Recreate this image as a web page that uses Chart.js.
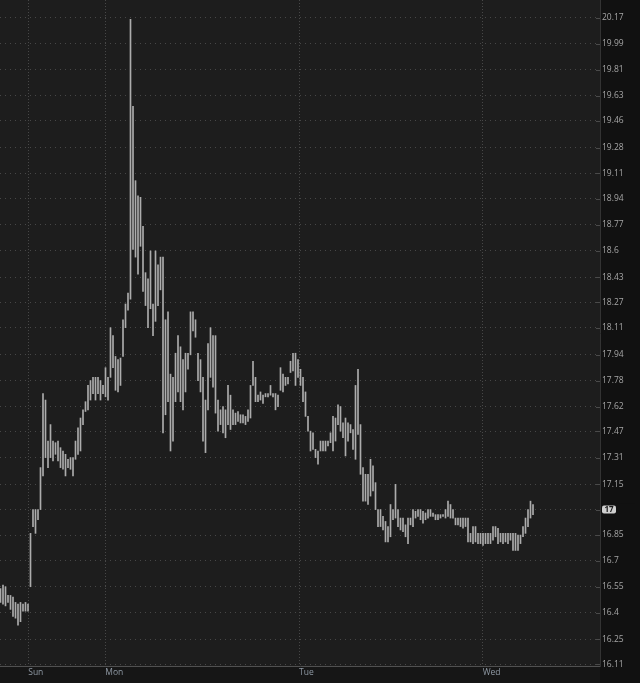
<!DOCTYPE html>
<html>
<head>
<meta charset="utf-8">
<script src="https://cdn.jsdelivr.net/npm/chart.js@4/dist/chart.umd.min.js"></script>
<style>
html,body{margin:0;padding:0;background:#121212;}
#wrap{width:640px;height:683px;position:relative;}
</style>
</head>
<body>
<div id="wrap"><canvas id="c"></canvas></div>
<script>
// ---- data (OHLC bars, high/low per bar) ----
const barHighs = [
16.54,16.56,16.55,16.50,16.50,16.49,16.46,16.45,16.46,16.45,16.46,16.45,
16.86,17.00,17.00,17.00,17.25,17.70,17.66,17.41,17.51,17.41,17.40,17.41,17.37,17.35,17.33,17.30,17.31,17.31,
17.41,17.49,17.55,17.60,17.65,17.75,17.78,17.80,17.80,17.80,17.78,17.75,17.86,17.80,18.11,18.06,17.93,17.91,
17.92,18.16,18.26,18.33,20.16,19.56,19.06,18.96,18.95,18.76,18.46,18.42,18.60,18.26,18.60,18.51,18.56,18.56,
18.16,18.21,17.82,17.80,17.95,18.06,17.99,17.91,17.95,17.95,18.21,18.21,18.16,17.95,17.91,17.80,17.66,18.01,
18.11,18.06,18.06,17.66,17.60,17.62,17.60,17.75,17.69,17.60,17.58,17.59,17.57,17.57,17.56,17.60,17.75,17.90,
17.80,17.69,17.71,17.69,17.70,17.70,17.75,17.70,17.70,17.69,17.86,17.82,17.80,17.80,17.90,17.95,17.95,17.91,
17.85,17.80,17.71,17.56,17.47,17.46,17.36,17.35,17.41,17.41,17.41,17.41,17.46,17.56,17.55,17.63,17.62,17.52,
17.55,17.52,17.51,17.48,17.75,17.85,17.51,17.25,17.21,17.21,17.30,17.26,17.16,17.00,17.00,16.96,16.93,16.90,
17.03,17.00,17.15,17.00,16.95,16.95,16.91,16.95,16.95,17.00,16.99,17.00,17.00,16.99,16.98,17.00,17.00,16.98,
16.97,16.97,16.97,16.97,17.00,17.05,17.03,17.00,16.95,16.95,16.95,16.95,16.95,16.95,16.86,16.90,16.90,16.86,
16.86,16.86,16.86,16.86,16.86,16.90,16.90,16.89,16.86,16.86,16.86,16.86,16.86,16.86,16.86,16.85,16.85,16.90,
16.95,17.00,17.05,17.03
];
const barLows = [
16.46,16.45,16.44,16.46,16.42,16.38,16.37,16.33,16.35,16.41,16.41,16.41,
16.55,16.90,16.86,16.94,17.00,17.20,17.31,17.25,17.31,17.29,17.33,17.29,17.25,17.24,17.20,17.25,17.24,17.20,
17.30,17.33,17.35,17.51,17.59,17.60,17.66,17.70,17.66,17.70,17.66,17.70,17.68,17.66,17.80,17.86,17.72,17.71,
17.75,17.93,18.11,18.22,18.29,18.61,18.56,18.45,18.63,18.34,18.25,18.11,18.23,18.06,18.15,18.25,18.35,17.46,
17.57,17.65,17.35,17.41,17.65,17.71,17.65,17.60,17.71,17.85,17.94,18.09,18.05,17.78,17.71,17.41,17.34,17.60,
17.80,17.74,17.58,17.47,17.51,17.46,17.43,17.51,17.48,17.51,17.51,17.53,17.52,17.52,17.51,17.53,17.55,17.75,
17.65,17.65,17.66,17.64,17.68,17.68,17.69,17.68,17.60,17.62,17.72,17.71,17.75,17.76,17.83,17.84,17.75,17.80,
17.75,17.65,17.56,17.47,17.35,17.36,17.31,17.27,17.35,17.35,17.35,17.38,17.40,17.35,17.41,17.51,17.47,17.43,
17.32,17.41,17.46,17.36,17.30,17.45,17.21,17.05,17.05,17.03,17.08,17.11,17.00,16.90,16.90,16.88,16.81,16.81,
16.84,16.94,16.95,16.90,16.88,16.87,16.84,16.80,16.91,16.90,16.95,16.96,16.94,16.92,16.94,16.95,16.96,16.96,
16.94,16.94,16.95,16.96,16.95,16.96,16.95,16.95,16.91,16.91,16.90,16.89,16.90,16.81,16.81,16.80,16.81,16.80,
16.80,16.79,16.80,16.80,16.80,16.82,16.84,16.80,16.81,16.80,16.81,16.80,16.82,16.76,16.76,16.76,16.80,16.84,
16.86,16.90,16.95,16.97
];
const dayLabels = ['Sun','Mon','Tue','Wed'];
const dayStartBar = [11.1, 41.9, 119.4, 192.9];   // bar-time where each day begins
const priceTickLabels = ['16.11','16.25','16.4','16.55','16.7','16.85','17','17.15','17.31','17.47','17.62',
  '17.78','17.94','18.11','18.27','18.43','18.6','18.77','18.94','19.11','19.28','19.46','19.63','19.81','19.99','20.17'];
const lastPrice = 17;
const axisMin = 16.11, axisMax = 20.296;
const barSlots = 240;

// ---- chart ----
const bars = barHighs.map((h, i) => ({x: i, y: [barLows[i], h]}));

const bgPlugin = {
  id: 'bg',
  beforeDraw(chart) {
    const {ctx, chartArea: a, width, height} = chart;
    ctx.save();
    ctx.fillStyle = '#111111';
    ctx.fillRect(0, 0, width, height);
    ctx.fillStyle = '#161616';
    ctx.fillRect(0, a.bottom, a.right, height - a.bottom);
    ctx.fillStyle = '#1d1d1d';
    ctx.fillRect(a.left, a.top, a.right - a.left, a.bottom - a.top);
    ctx.restore();
  },
  afterDraw(chart) {
    const {ctx, chartArea: a} = chart;
    const ys = chart.scales.y;
    ctx.save();
    ctx.strokeStyle = '#4a4a4a';
    ctx.lineWidth = 1;
    ys.ticks.forEach(t => {
      const py = Math.round(ys.getPixelForValue(t.value)) + 0.5;
      ctx.beginPath(); ctx.moveTo(a.right - 4, py); ctx.lineTo(a.right, py); ctx.stroke();
    });
    // last price marker
    const py = ys.getPixelForValue(lastPrice);
    const bx = a.right + 2, bw = 14, bh = 8, by = py - bh / 2;
    ctx.fillStyle = '#111111';
    ctx.fillRect(bx - 1, by - 2, 34, bh + 4);
    ctx.fillStyle = '#cfcfcf';
    ctx.beginPath();
    if (ctx.roundRect) ctx.roundRect(bx, by, bw, bh, 2); else ctx.rect(bx, by, bw, bh);
    ctx.fill();
    ctx.fillStyle = '#1a1a1a';
    ctx.font = 'bold 8px "Open Sans", sans-serif';
    ctx.textAlign = 'center';
    ctx.textBaseline = 'middle';
    ctx.fillText(String(lastPrice), bx + bw / 2, py + 0.5);
    ctx.restore();
  }
};

new Chart(document.getElementById('c'), {
  type: 'bar',
  data: {
    datasets: [{
      data: bars,
      backgroundColor: '#acacac',
      borderWidth: 0,
      barThickness: 1,
      grouped: false
    }]
  },
  options: {
    responsive: true,
    maintainAspectRatio: false,
    animation: false,
    layout: {padding: 0},
    plugins: {legend: {display: false}, tooltip: {enabled: false}},
    scales: {
      x: {
        type: 'linear',
        min: -0.2,
        max: barSlots - 0.2,
        offset: false,
        afterBuildTicks: s => { s.ticks = dayStartBar.map(v => ({value: v})); },
        afterFit: s => { s.height = 17; s.paddingLeft = 0; s.paddingRight = 0; },
        ticks: {
          autoSkip: false, maxRotation: 0, align: 'start', padding: 1,
          color: '#8f99a4',
          font: {family: '"Open Sans", sans-serif', size: 8.5},
          callback: (v, i) => dayLabels[i]
        },
        grid: {color: '#474747', drawTicks: false, lineWidth: 1, offset: false},
        border: {display: true, color: '#505050', dash: [1, 2]}
      },
      y: {
        type: 'logarithmic',
        position: 'right',
        min: axisMin,
        max: axisMax,
        afterBuildTicks: s => { s.ticks = priceTickLabels.map(v => ({value: parseFloat(v)})); },
        afterFit: s => { s.width = 40; s.paddingTop = 0; s.paddingBottom = 0; },
        ticks: {
          autoSkip: false, padding: 2,
          color: '#a6a6a6',
          font: {family: '"Open Sans", sans-serif', size: 8.5},
          callback: (v, i) => priceTickLabels[i]
        },
        grid: {color: '#474747', drawTicks: false, lineWidth: 1},
        border: {display: true, color: '#333333', dash: [1, 4]}
      }
    }
  },
  plugins: [bgPlugin]
});
</script>
</body>
</html>
